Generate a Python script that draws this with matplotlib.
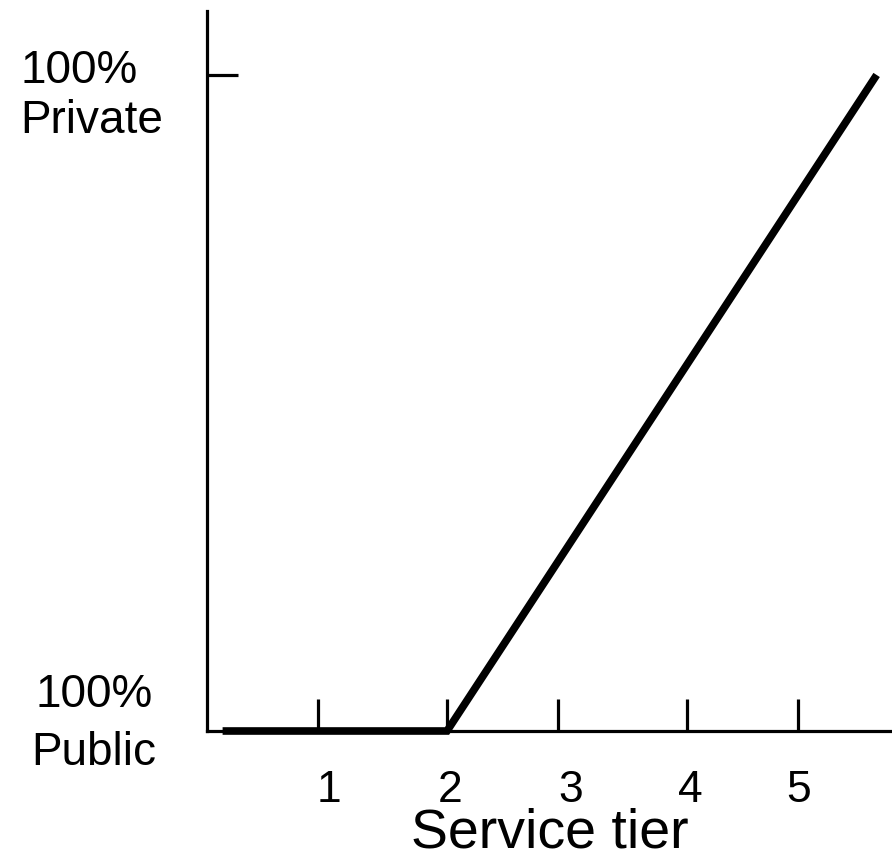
import matplotlib
matplotlib.use("Agg")
import matplotlib.pyplot as plt

plt.rcParams['font.family'] = ['Liberation Sans', 'DejaVu Sans']

# Data (service tier vs share private, %)
tier = [0.13, 2.0, 5.58]
private_share = [0, 0, 100]

tick_positions = [0.925, 2.0, 2.925, 4.0, 4.925]
tick_label_positions = [1.02, 2.03, 3.03, 4.03, 4.93]
tick_labels = ["1", "2", "3", "4", "5"]
xlabel = "Service tier"
y_labels_top = ["100%", "Private"]
y_labels_bottom = ["100%", "Public"]

W, H = 892, 860
fig = plt.figure(figsize=(W / 100, H / 100), dpi=100)
ax = fig.add_axes([207 / W, (H - 731) / H, (W - 207) / W, (731 - 11) / H])

ax.plot(tier, private_share, color="black", lw=5.5, solid_capstyle="butt",
        solid_joinstyle="miter", clip_on=False, zorder=3)

ax.set_xlim(0, 5.708)
ax.set_ylim(0, 109.75)

for s in ["top", "right"]:
    ax.spines[s].set_visible(False)
for s in ["left", "bottom"]:
    ax.spines[s].set_linewidth(2.3)
    ax.spines[s].set_color("black")

ax.set_xticks(tick_positions)
ax.set_xticklabels([])
ax.tick_params(axis="x", direction="in", length=23, width=2.3, color="black")
ax.set_yticks([100])
ax.set_yticklabels([])
ax.tick_params(axis="y", direction="in", length=22, width=2.3, color="black")

for pos, lab in zip(tick_label_positions, tick_labels):
    ax.annotate(lab, xy=(pos, 0), xycoords=("data", "axes fraction"),
                xytext=(0, -71 * 0.72), textcoords="offset points",
                ha="center", va="baseline", fontsize=32, annotation_clip=False)

fig.text(550 / W, 1 - 848 / H, xlabel, ha="center", va="baseline", fontsize=40)

fig.text(20 / W, 1 - 83 / H, y_labels_top[0], ha="left", va="baseline", fontsize=33)
fig.text(20 / W, 1 - 133 / H, y_labels_top[1], ha="left", va="baseline", fontsize=33)
fig.text(94 / W, 1 - 707 / H, y_labels_bottom[0], ha="center", va="baseline", fontsize=33)
fig.text(94 / W, 1 - 765 / H, y_labels_bottom[1], ha="center", va="baseline", fontsize=33)

fig.savefig("out.png", dpi=100)
